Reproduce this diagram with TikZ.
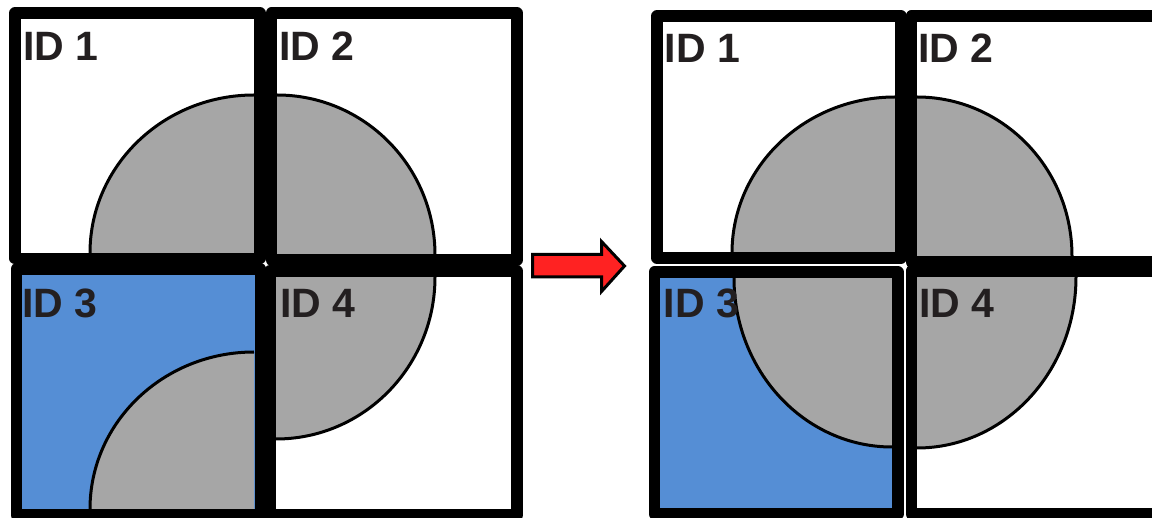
\documentclass[tikz,border=0pt]{standalone}
\usepackage{fontspec}
\setmainfont{Liberation Sans}
\definecolor{cellgrey}{HTML}{A6A6A6}
\definecolor{cellblue}{HTML}{558ED5}
\definecolor{arrowred}{HTML}{FF2222}
\definecolor{labeltext}{HTML}{231F20}
\begin{document}
\begin{tikzpicture}[x=1pt,y=-1pt,
  cellbox/.style={draw=black,line width=11.5pt,line join=round},
  sector/.style={fill=cellgrey},
  rim/.style={draw=black,line width=3pt},
  idlabel/.style={anchor=base west,inner sep=0pt,text=labeltext,font=\fontsize{41}{41}\selectfont\bfseries}]
\useasboundingbox (0,0) rectangle (1152,518);
\clip (0,0) rectangle (1152,518);
% ---------- left panel ----------
\fill[cellblue] (21,274) rectangle (256,510);
% sectors
\path[sector] (254,253) -- (90,253) arc[start angle=180,end angle=270,x radius=164,y radius=158] -- cycle;
\path[sector] (277,255) -- (277,95) arc[start angle=270,end angle=360,x radius=158,y radius=160] -- cycle;
\path[sector] (276,277) -- (435,277) arc[start angle=0,end angle=90,x radius=159,y radius=162] -- cycle;
\path[sector] (254,509) -- (90,509) arc[start angle=180,end angle=270,x radius=164,y radius=157] -- cycle;
\draw[rim] (90,253) arc[start angle=180,end angle=270,x radius=164,y radius=158];
\draw[rim] (277,95) arc[start angle=270,end angle=360,x radius=158,y radius=160];
\draw[rim] (435,277) arc[start angle=0,end angle=90,x radius=159,y radius=162];
\draw[rim] (90,509) arc[start angle=180,end angle=270,x radius=164,y radius=157];
% boxes
\draw[cellbox] (15,13) rectangle (260,258.5);
\draw[cellbox] (271.5,13) rectangle (517,260);
\draw[cellbox] (16.5,269) rectangle (260.5,515);
\draw[cellbox] (270,271) rectangle (517,515);
% labels
\node[idlabel] (l1) at (23,61) {ID 1};
\node[idlabel] (l2) at (279,61) {ID 2};
\node[idlabel] (l3) at (22,318) {ID 3};
\node[idlabel] (l4) at (280,318) {ID 4};
% ---------- arrow ----------
\draw[fill=arrowred,line width=3pt,line join=miter]
  (532.5,254.5) -- (601.5,254.5) -- (601.5,241.5) -- (624.5,266) -- (601.5,291.5) -- (601.5,277) -- (532.5,277) -- cycle;
% ---------- right panel ----------
\fill[cellblue] (659,277) rectangle (893,509);
\path[sector] (895,253) -- (732,253) arc[start angle=180,end angle=270,x radius=163,y radius=156] -- cycle;
\path[sector] (917,256) -- (917,97) arc[start angle=270,end angle=360,x radius=155,y radius=159] -- cycle;
\path[sector] (892,278) -- (892,447) arc[start angle=90,end angle=180,x radius=158,y radius=169] -- cycle;
\path[sector] (917,277) -- (1076,277) arc[start angle=0,end angle=90,x radius=159,y radius=171] -- cycle;
\draw[rim] (732,253) arc[start angle=180,end angle=270,x radius=163,y radius=156];
\draw[rim] (917,97) arc[start angle=270,end angle=360,x radius=155,y radius=159];
\draw[rim] (892,447) arc[start angle=90,end angle=180,x radius=158,y radius=169];
\draw[rim] (1076,277) arc[start angle=0,end angle=90,x radius=159,y radius=171];
\draw[cellbox] (657,16) rectangle (900.75,258);
\draw[cellbox] (911.25,16) rectangle (1170,262);
\draw[cellbox] (654.5,272) rectangle (897.75,514);
\draw[cellbox] (911.25,271) rectangle (1170,514);
\node[idlabel] (r1) at (664.5,63) {ID 1};
\node[idlabel] (r2) at (918,63) {ID 2};
\node[idlabel] (r3) at (663.5,318) {ID 3};
\node[idlabel] (r4) at (919,318) {ID 4};
\end{tikzpicture}
\end{document}
